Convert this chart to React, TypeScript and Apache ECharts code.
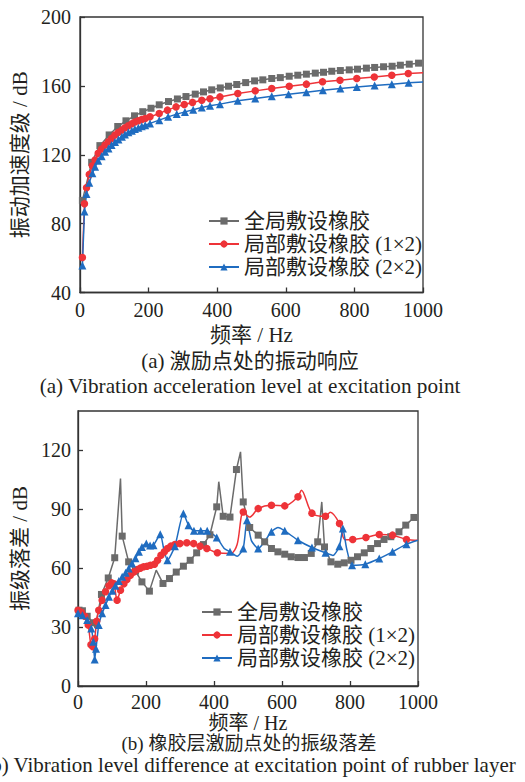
import React, { useEffect, useRef } from "react";
import * as echarts from "echarts";

const FONT = "'Liberation Serif', 'Times New Roman', 'Noto Sans CJK SC', serif";

const seriesNames = ["全局敷设橡胶", "局部敷设橡胶 (1×2)", "局部敷设橡胶 (2×2)"];
const xTicks = [0, 200, 400, 600, 800, 1000];

// ---- (a) vibration acceleration level ----
const topGrayHz = [7, 34, 58, 85, 110, 134, 159, 183, 207, 231, 258, 284, 309, 336, 360, 384, 409, 433, 457, 483, 509, 533, 559, 584, 610, 635, 660, 686, 710, 734, 759, 785, 809, 835, 859, 885, 910, 934, 960, 987];
const topGrayDb = [93.5, 115.6, 125.3, 131.5, 136.4, 139.7, 142.6, 145, 147, 149, 150.9, 152.4, 153.8, 155.2, 156.5, 157.7, 158.8, 159.8, 160.8, 161.9, 162.9, 163.5, 164.3, 164.8, 165.6, 166.2, 166.8, 167.4, 167.9, 168.5, 168.9, 169.3, 169.7, 170.3, 170.7, 171.1, 171.4, 172, 172.6, 173.2];

const topRedHz = [7, 13, 19, 27, 36, 44, 53, 63, 73, 83, 92, 102, 112, 122, 131, 141, 151, 160, 170, 180, 190, 204, 231, 255, 280, 304, 328, 355, 379, 408, 460, 511, 559, 610, 660, 707, 758, 807, 858, 909, 957];
const topRedDb = [60.3, 91.5, 100.9, 108.6, 113.6, 116.9, 120.8, 123.3, 125.6, 127.5, 129.5, 131.4, 133, 134.3, 135.7, 136.8, 138, 139, 139.7, 140.5, 141.1, 142, 144, 145.9, 147.8, 149.2, 150.4, 151.7, 152.5, 153.6, 155.6, 157.1, 158.5, 159.8, 161, 162.4, 163.3, 164.3, 165.2, 166.2, 167.2];
const topRedTailHz = [1000];
const topRedTailDb = [167.6];

const topBlueHz = [7, 13, 19, 27, 36, 44, 53, 63, 73, 83, 92, 102, 112, 122, 131, 141, 151, 160, 170, 180, 190, 204, 231, 257, 282, 306, 330, 355, 379, 408, 460, 511, 559, 608, 660, 708, 759, 807, 859, 909, 958];
const topBlueDb = [55.7, 87, 97.2, 103.8, 109.2, 113, 116.5, 119.2, 121.7, 123.7, 125.6, 127.4, 128.9, 130.4, 131.8, 133, 133.9, 134.9, 135.7, 136.5, 137.2, 138.2, 140.1, 142, 143.6, 144.9, 146.1, 147.5, 148.4, 149.4, 151.3, 152.7, 154, 155.2, 156.3, 157.5, 158.5, 159.4, 160.2, 161, 161.8];
const topBlueTailHz = [1000];
const topBlueTailDb = [162.3];

// ---- (b) vibration level difference ----
const botGrayHz = [3, 13, 27, 45, 69, 89, 108, 130, 149, 169, 188, 210, 250, 269, 289, 310, 330, 349, 369, 388, 408, 427, 447, 466, 486, 505, 530, 549, 569, 588, 608, 627, 647, 666, 686, 705, 725, 744, 764, 783, 803, 822, 842, 861, 881, 900, 920, 944, 964, 988];
const botGrayDb = [38.6, 38.3, 35.5, 32.2, 46.6, 55, 65.3, 76.3, 63.2, 58.5, 53, 48.3, 52.2, 54.7, 58, 61, 64, 67.8, 72, 77, 91.2, 86.4, 86, 110.2, 93.7, 80.7, 76.8, 73.4, 70, 68.3, 67.1, 65.8, 65.4, 65.4, 67.5, 73.4, 70.8, 63.2, 62, 62.7, 64, 65.8, 67.8, 70, 72.5, 74.6, 76, 78.5, 81.9, 85.8];
const botGrayPeakHz = [50, 125, 230, 414, 478, 717];
const botGrayPeakDb = [29.5, 105.6, 59, 104, 119.2, 93.7];

const botRedHz = [0, 10, 20, 30, 38, 44, 49, 55, 61, 71, 81, 91, 99, 106, 115, 125, 135, 144, 154, 164, 174, 183, 193, 203, 213, 225, 234, 244, 254, 263, 273, 285, 300, 320, 340, 359, 379, 410, 486, 530, 569, 608, 647, 688, 728, 769, 808, 847, 886, 925, 966];
const botRedDb = [38.6, 37.5, 35.5, 31, 21, 20, 24, 33, 38.6, 43.7, 48, 51, 52.5, 52, 43.7, 48.8, 52, 54.2, 56.4, 58, 59.3, 60, 60.7, 61, 61.5, 62, 64, 66.6, 68.3, 70, 71.2, 72, 72.5, 72.9, 72.5, 71.2, 70, 67.8, 88.6, 90.3, 92, 91.7, 96.3, 88, 86.4, 82.7, 74.6, 75.6, 77.1, 76.8, 74.6];
const botRedPlainHz = [450, 468, 505, 657, 742, 785, 1000];
const botRedPlainDb = [67.5, 72, 86, 99.7, 88.4, 74.5, 74.2];

const botBlueHz = [0, 13, 27, 39, 45, 49, 53, 61, 71, 81, 91, 101, 110, 120, 130, 140, 149, 159, 169, 179, 188, 201, 212, 222, 242, 263, 285, 310, 325, 341, 361, 380, 408, 447, 486, 497, 530, 569, 608, 647, 688, 728, 769, 779, 806, 845, 886, 925, 966];
const botBlueDb = [37, 36, 33.6, 29.3, 22.5, 13.5, 19, 31, 37, 41.2, 45.4, 48.5, 51, 53.4, 55.6, 57.6, 59.8, 62.4, 65, 68.3, 70.8, 72.5, 71.5, 71.7, 77.3, 64, 71.2, 87.8, 81.9, 79, 79, 79, 75.6, 68.3, 70, 84.4, 70, 78.5, 79, 74.2, 70.5, 67.8, 71.2, 80.2, 61.5, 62, 64.9, 68.3, 72.2];
const botBluePlainHz = [252, 430, 468, 510, 588, 750, 790, 1000];
const botBluePlainDb = [70, 70, 66, 74, 80.7, 66.5, 70, 74.2];

type Pt = { value: number[]; symbol?: string };
function build(hz: number[], db: number[], plainHz: number[] = [], plainDb: number[] = []): Pt[] {
  const pts: Pt[] = hz.map((x, i) => ({ value: [x, db[i]] }));
  plainHz.forEach((x, i) => pts.push({ value: [x, plainDb[i]], symbol: "none" }));
  pts.sort((a, b) => a.value[0] - b.value[0]);
  return pts;
}

const GRAY = "#6b6b6b";
const RED = "#ee3338";
const BLUE = "#1f6cc0";
const AXIS = "#333333";
const TEXT = "#231f20";
const TICK_FS = 20;
const TEXT_FS = 21;

export default function App() {
  const ref = useRef<HTMLDivElement>(null);
  useEffect(() => {
    document.body.style.margin = "0";
    if (!ref.current) return;
    const chart = echarts.init(ref.current, null, { renderer: "svg" });

    const xAxisBase = (gridIndex: number, nameGap: number, labelMargin: number, nameFs: number) => ({
      type: "value",
      gridIndex,
      min: 0,
      max: 1000,
      interval: 200,
      name: "频率 / Hz",
      nameLocation: "middle",
      nameGap,
      nameTextStyle: { fontFamily: FONT, fontSize: nameFs, color: TEXT },
      axisLine: { show: true, lineStyle: { color: AXIS, width: 1.3 } },
      axisTick: { show: true, inside: true, length: 5, lineStyle: { color: AXIS, width: 1.3 } },
      axisLabel: { fontFamily: FONT, fontSize: TICK_FS, color: TEXT, margin: labelMargin, formatter: (v: number) => (xTicks.includes(v) ? String(v) : "") },
      splitLine: { show: false },
    });

    const mk = (name: string, idx: number, data: Pt[], color: string, symbol: string, size: number, smooth: number | boolean) => ({
      type: "line",
      name,
      xAxisIndex: idx,
      yAxisIndex: idx,
      data,
      color,
      symbol,
      symbolSize: size,
      showAllSymbol: true,
      smooth,
      lineStyle: { color, width: 1.5 },
      itemStyle: { color },
    });

    const legendBase = (left: number, top: number) => ({
      data: seriesNames,
      orient: "vertical",
      left,
      top,
      padding: 0,
      itemGap: 1,
      itemWidth: 30,
      itemHeight: 9,
      textStyle: { fontFamily: FONT, fontSize: TEXT_FS, color: TEXT, lineHeight: 22 },
      selectedMode: false,
    });

    const caption = (x: number, y: number, text: string, fs: number) => ({
      type: "text",
      x,
      y,
      style: { text, fontFamily: FONT, fontSize: fs, fill: TEXT, textAlign: "center", textVerticalAlign: "middle" },
    });

    chart.setOption({
      animation: false,
      backgroundColor: "#ffffff",
      grid: [
        { left: 80, top: 17, width: 343, height: 275.5, show: true, borderColor: AXIS, borderWidth: 1.3, containLabel: false },
        { left: 78, top: 411, width: 340, height: 275, show: true, borderColor: AXIS, borderWidth: 1.3, containLabel: false },
      ],
      xAxis: [xAxisBase(0, 32, 7, TEXT_FS), xAxisBase(1, 22, 6, 20)],
      yAxis: [
        {
          type: "value",
          gridIndex: 0,
          min: 40,
          max: 200,
          interval: 40,
          name: "振动加速度级 / dB",
          nameLocation: "middle",
          nameGap: 48,
          nameTextStyle: { fontFamily: FONT, fontSize: TEXT_FS, color: TEXT },
          axisLine: { show: true, lineStyle: { color: AXIS, width: 1.3 } },
          axisTick: { show: true, inside: true, length: 5, lineStyle: { color: AXIS, width: 1.3 } },
          axisLabel: { fontFamily: FONT, fontSize: TICK_FS, color: TEXT, margin: 9 },
          splitLine: { show: false },
        },
        {
          type: "value",
          gridIndex: 1,
          min: 0,
          max: 140,
          interval: 30,
          name: "振级落差 / dB",
          nameLocation: "middle",
          nameGap: 40,
          nameTextStyle: { fontFamily: FONT, fontSize: TEXT_FS, color: TEXT },
          axisLine: { show: true, lineStyle: { color: AXIS, width: 1.3 } },
          axisTick: { show: true, inside: true, length: 5, lineStyle: { color: AXIS, width: 1.3 } },
          axisLabel: { fontFamily: FONT, fontSize: TICK_FS, color: TEXT, margin: 7, showMaxLabel: false },
          splitLine: { show: false },
        },
      ],
      legend: [legendBase(208, 210), legendBase(201, 601)],
      series: [
        mk(seriesNames[0], 0, build(topGrayHz, topGrayDb), GRAY, "rect", 7, false),
        mk(seriesNames[1], 0, build(topRedHz, topRedDb, topRedTailHz, topRedTailDb), RED, "circle", 7.5, false),
        mk(seriesNames[2], 0, build(topBlueHz, topBlueDb, topBlueTailHz, topBlueTailDb), BLUE, "triangle", 8, false),
        mk(seriesNames[0], 1, build(botGrayHz, botGrayDb, botGrayPeakHz, botGrayPeakDb), GRAY, "rect", 7, false),
        mk(seriesNames[1], 1, build(botRedHz, botRedDb, botRedPlainHz, botRedPlainDb), RED, "circle", 7.5, 0.3),
        mk(seriesNames[2], 1, build(botBlueHz, botBlueDb, botBluePlainHz, botBluePlainDb), BLUE, "triangle", 8, 0.2),
      ],
      graphic: [
        caption(250, 361, "(a) 激励点处的振动响应", TEXT_FS),
        caption(250, 386, "(a) Vibration acceleration level at excitation point", 21.2),
        caption(249, 743, "(b) 橡胶层激励点处的振级落差", 19),
        caption(250, 764.5, "(b) Vibration level difference at excitation point of rubber layer", 21),
      ],
    });
    return () => chart.dispose();
  }, []);
  return <div ref={ref} style={{ width: 525, height: 782 }} />;
}
